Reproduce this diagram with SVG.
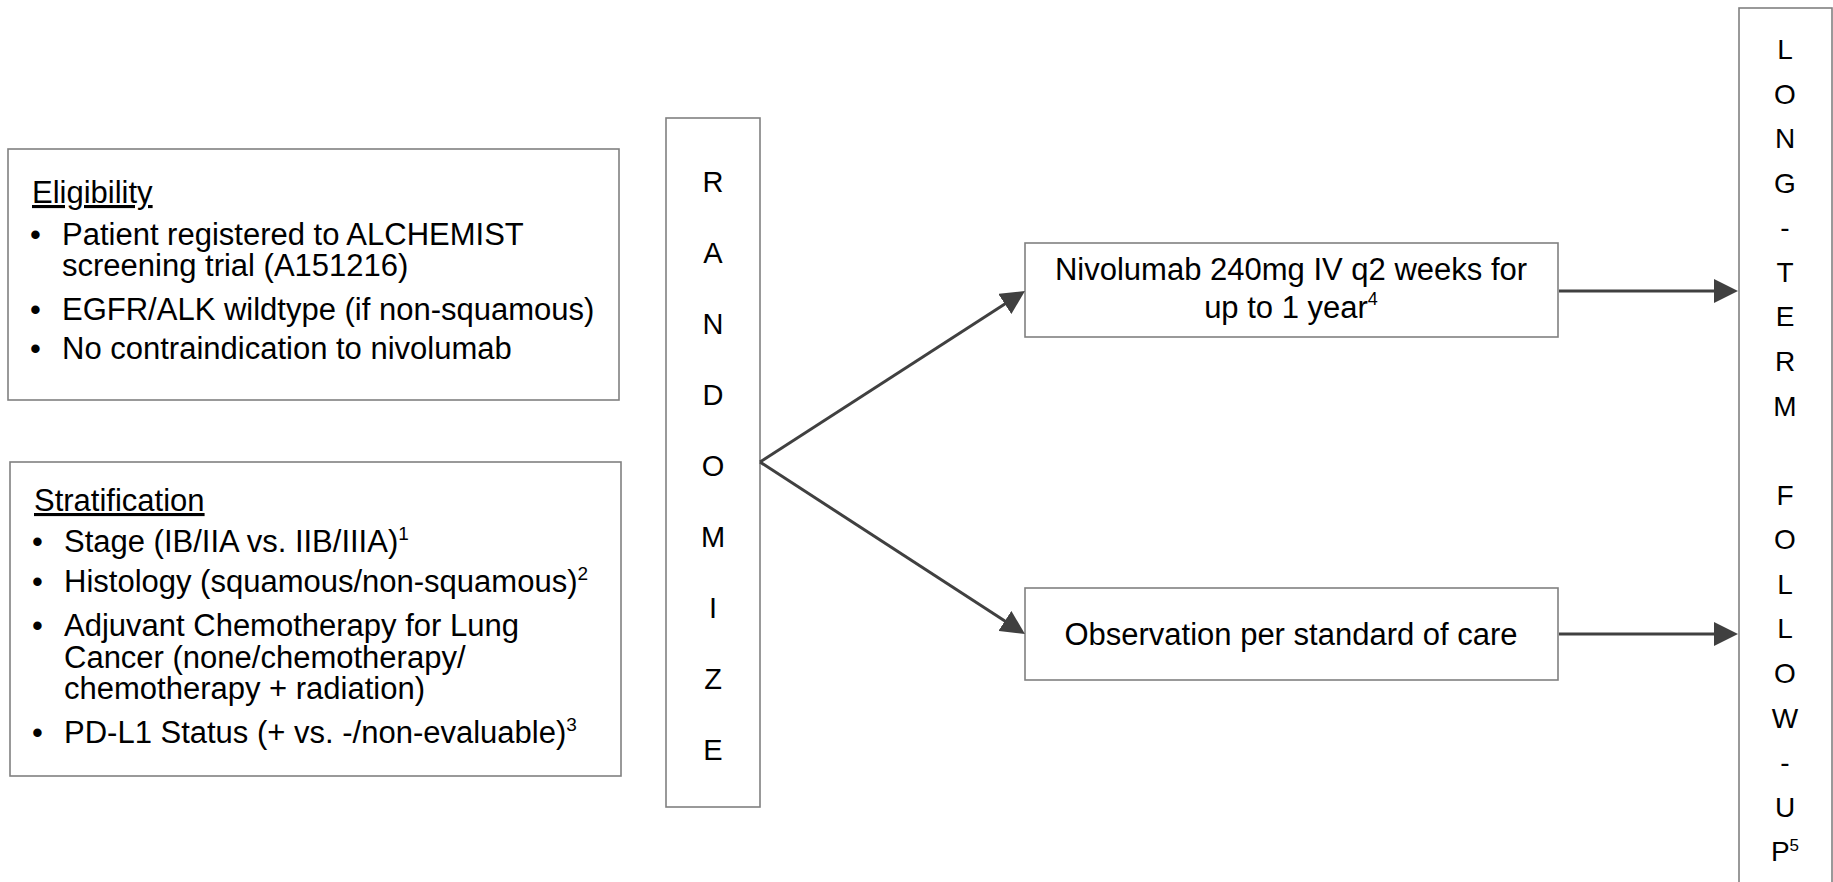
<svg xmlns="http://www.w3.org/2000/svg" width="1833" height="882" viewBox="0 0 1833 882">
<defs>
<style>
.box{fill:#ffffff;stroke:#808080;stroke-width:1.6}
.t{font-family:"Liberation Sans",Arial,sans-serif;font-size:31px;fill:#000}
.v{font-family:"Liberation Sans",Arial,sans-serif;font-size:29px;fill:#000;text-anchor:middle}
.lt{font-size:28px}
.c{text-anchor:middle}
.sup{font-size:19px}
.conn{stroke:#404040;stroke-width:3;fill:none;marker-end:url(#ah)}
</style>
<marker id="ah" viewBox="0 0 24 24" refX="12" refY="12" markerWidth="24" markerHeight="24" markerUnits="userSpaceOnUse" orient="auto">
<path d="M0,0 L24,12 L0,24 Z" fill="#404040"/>
</marker>
</defs>
<rect width="1833" height="882" fill="#ffffff"/>

<g id="eligibility">
<rect class="box" x="8" y="149" width="611" height="251"/>
<text class="t" x="32" y="203" text-decoration="underline">Eligibility</text>
<text class="t" x="30" y="245">•</text>
<text class="t" x="62" y="245">Patient registered to ALCHEMIST</text>
<text class="t" x="62" y="276">screening trial (A151216)</text>
<text class="t" x="30" y="320">•</text>
<text class="t" x="62" y="320">EGFR/ALK wildtype (if non-squamous)</text>
<text class="t" x="30" y="359">•</text>
<text class="t" x="62" y="359">No contraindication to nivolumab</text>
</g>

<g id="stratification">
<rect class="box" x="10" y="462" width="611" height="314"/>
<text class="t" x="34" y="511" text-decoration="underline">Stratification</text>
<text class="t" x="32" y="552">•</text>
<text class="t" x="64" y="552">Stage (IB/IIA vs. IIB/IIIA)<tspan class="sup" dy="-12">1</tspan></text>
<text class="t" x="32" y="592">•</text>
<text class="t" x="64" y="592">Histology (squamous/non-squamous)<tspan class="sup" dy="-12">2</tspan></text>
<text class="t" x="32" y="636">•</text>
<text class="t" x="64" y="636">Adjuvant Chemotherapy for Lung</text>
<text class="t" x="64" y="668">Cancer (none/chemotherapy/</text>
<text class="t" x="64" y="699">chemotherapy + radiation)</text>
<text class="t" x="32" y="743">•</text>
<text class="t" x="64" y="743">PD-L1 Status (+ vs. -/non-evaluable)<tspan class="sup" dy="-12">3</tspan></text>
</g>

<g id="randomize">
<rect class="box" x="666" y="118" width="94" height="689"/>
<text class="v" x="713" y="192">R</text>
<text class="v" x="713" y="263">A</text>
<text class="v" x="713" y="334">N</text>
<text class="v" x="713" y="405">D</text>
<text class="v" x="713" y="476">O</text>
<text class="v" x="713" y="547">M</text>
<text class="v" x="713" y="618">I</text>
<text class="v" x="713" y="689">Z</text>
<text class="v" x="713" y="760">E</text>
</g>

<g id="nivolumab">
<rect class="box" x="1025" y="243" width="533" height="94"/>
<text class="t c" x="1291" y="280">Nivolumab 240mg IV q2 weeks for</text>
<text class="t c" x="1291" y="318">up to 1 year<tspan class="sup" style="font-size:18px" dy="-13">4</tspan></text>
</g>

<g id="observation">
<rect class="box" x="1025" y="588" width="533" height="92"/>
<text class="t c" x="1291" y="645">Observation per standard of care</text>
</g>

<g id="followup">
<rect class="box" x="1739" y="8" width="93" height="900"/>
<text class="v lt" x="1785" y="59">L</text>
<text class="v lt" x="1785" y="104">O</text>
<text class="v lt" x="1785" y="148">N</text>
<text class="v lt" x="1785" y="193">G</text>
<text class="v lt" x="1785" y="237">-</text>
<text class="v lt" x="1785" y="282">T</text>
<text class="v lt" x="1785" y="326">E</text>
<text class="v lt" x="1785" y="371">R</text>
<text class="v lt" x="1785" y="416">M</text>
<text class="v lt" x="1785" y="505">F</text>
<text class="v lt" x="1785" y="549">O</text>
<text class="v lt" x="1785" y="594">L</text>
<text class="v lt" x="1785" y="638">L</text>
<text class="v lt" x="1785" y="683">O</text>
<text class="v lt" x="1785" y="728">W</text>
<text class="v lt" x="1785" y="772">-</text>
<text class="v lt" x="1785" y="817">U</text>
<text class="v lt" x="1785" y="861">P<tspan class="sup" dy="-10" style="font-size:17px">5</tspan></text>
</g>

<g id="connectors">
<line class="conn" x1="760" y1="462" x2="1014.9" y2="297.5"/>
<line class="conn" x1="760" y1="462" x2="1014.9" y2="627.5"/>
<line class="conn" x1="1559" y1="291" x2="1726" y2="291"/>
<line class="conn" x1="1559" y1="634" x2="1726" y2="634"/>
</g>
</svg>
